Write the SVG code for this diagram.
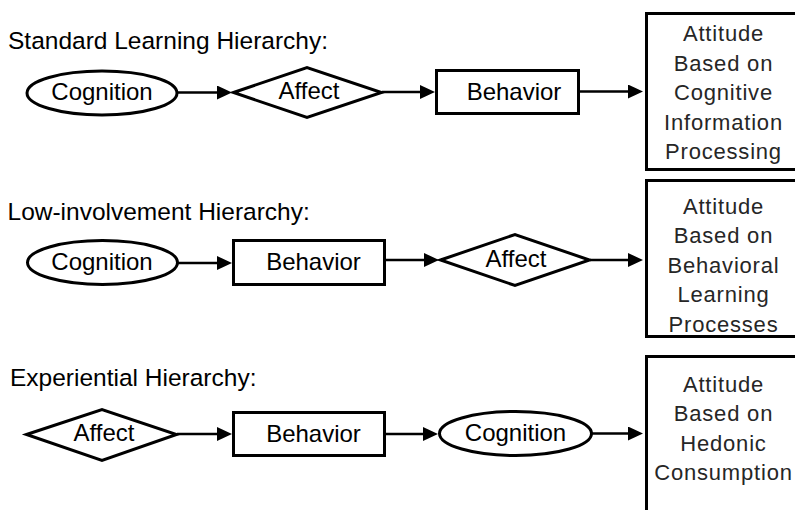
<svg xmlns="http://www.w3.org/2000/svg" width="795" height="510" viewBox="0 0 795 510">
  <style>
    .shape { fill: #ffffff; stroke: #000000; stroke-width: 3; }
    .link { fill: none; stroke: #000000; stroke-width: 2.5; }
    .title { font-family: "Liberation Sans", Arial, sans-serif; font-size: 24.5px; fill: #000000; }
    .label { font-family: "Liberation Sans", Arial, sans-serif; font-size: 24px; fill: #000000; text-anchor: middle; }
    .result { font-family: "Liberation Sans", Arial, sans-serif; font-size: 22px; letter-spacing: 0.8px; fill: #262626; text-anchor: middle; }
  </style>
  <defs>
    <marker id="head" markerUnits="userSpaceOnUse" markerWidth="16" markerHeight="15" refX="0" refY="7" orient="auto">
      <path d="M0,0 L15,7 L0,14 z" fill="#000000"/>
    </marker>
  </defs>

  <rect width="795" height="510" fill="#ffffff"/>

  <!-- Section titles -->
  <text id="title-standard" class="title" x="8" y="49">Standard Learning Hierarchy:</text>
  <text id="title-low" class="title" x="7.5" y="220">Low-involvement Hierarchy:</text>
  <text id="title-experiential" class="title" x="10" y="386">Experiential Hierarchy:</text>

  <!-- Standard learning hierarchy -->
  <g id="std-cognition">
    <ellipse class="shape" cx="102" cy="93" rx="75" ry="22"/>
    <text class="label" x="102" y="100">Cognition</text>
  </g>
  <g id="std-affect">
    <polygon class="shape" points="233.5,92.5 307,67.5 381.5,92.5 307,117.5"/>
    <text class="label" x="309" y="99">Affect</text>
  </g>
  <g id="std-behavior">
    <rect class="shape" x="436.5" y="70.5" width="142" height="43"/>
    <text class="label" x="514" y="100">Behavior</text>
  </g>
  <g id="std-attitude">
    <rect class="shape" x="646.5" y="13.5" width="170" height="156"/>
    <text class="result" x="723.5" y="41">Attitude</text>
    <text class="result" x="723.5" y="70.5">Based on</text>
    <text class="result" x="723.5" y="100">Cognitive</text>
    <text class="result" x="723.5" y="129.5">Information</text>
    <text class="result" x="723.5" y="159">Processing</text>
  </g>

  <!-- Low-involvement hierarchy -->
  <g id="low-cognition">
    <ellipse class="shape" cx="102.5" cy="262.5" rx="75" ry="22"/>
    <text class="label" x="102" y="270">Cognition</text>
  </g>
  <g id="low-behavior">
    <rect class="shape" x="233.5" y="240.5" width="151" height="44"/>
    <text class="label" x="313.5" y="270">Behavior</text>
  </g>
  <g id="low-affect">
    <polygon class="shape" points="440.5,260 515,234.5 589.5,260 515,285.5"/>
    <text class="label" x="516" y="267">Affect</text>
  </g>
  <g id="low-attitude">
    <rect class="shape" x="646.5" y="180.5" width="170" height="156"/>
    <text class="result" x="723.5" y="213.5">Attitude</text>
    <text class="result" x="723.5" y="243">Based on</text>
    <text class="result" x="723.5" y="272.5">Behavioral</text>
    <text class="result" x="723.5" y="302">Learning</text>
    <text class="result" x="723.5" y="331.5">Processes</text>
  </g>

  <!-- Experiential hierarchy -->
  <g id="exp-affect">
    <polygon class="shape" points="26.5,434.5 102,409.5 176.5,434.5 102,460.5"/>
    <text class="label" x="104" y="441">Affect</text>
  </g>
  <g id="exp-behavior">
    <rect class="shape" x="233.5" y="412.5" width="151" height="43"/>
    <text class="label" x="313.5" y="442">Behavior</text>
  </g>
  <g id="exp-cognition">
    <ellipse class="shape" cx="515.5" cy="433.5" rx="76" ry="22"/>
    <text class="label" x="515.5" y="441">Cognition</text>
  </g>
  <g id="exp-attitude">
    <rect class="shape" x="646.5" y="356.5" width="170" height="170"/>
    <text class="result" x="723.5" y="391.5">Attitude</text>
    <text class="result" x="723.5" y="421">Based on</text>
    <text class="result" x="723.5" y="450.5">Hedonic</text>
    <text class="result" x="723.5" y="480">Consumption</text>
  </g>

  <!-- Connectors -->
  <g id="connectors">
    <path class="link" d="M177,92.5 H217" marker-end="url(#head)"/>
    <path class="link" d="M382,92 H420" marker-end="url(#head)"/>
    <path class="link" d="M580,91.5 H628" marker-end="url(#head)"/>

    <path class="link" d="M178,263 H217" marker-end="url(#head)"/>
    <path class="link" d="M386,260 H424" marker-end="url(#head)"/>
    <path class="link" d="M590,260 H628" marker-end="url(#head)"/>

    <path class="link" d="M177,434 H217" marker-end="url(#head)"/>
    <path class="link" d="M386,434 H423" marker-end="url(#head)"/>
    <path class="link" d="M592,433.5 H628" marker-end="url(#head)"/>
  </g>
</svg>
